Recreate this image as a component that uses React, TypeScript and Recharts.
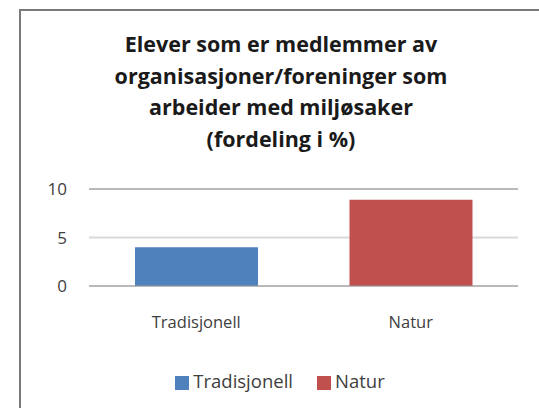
import React from "react";
import { BarChart, Bar, XAxis, YAxis, CartesianGrid, Legend, ReferenceLine } from "recharts";

const categories = ["Tradisjonell", "Natur"];
const tradisjonell = [4, null];
const natur = [null, 8.9];
const yTicks = [0, 5, 10];
const titleLines = [
  "Elever som er medlemmer av",
  "organisasjoner/foreninger som",
  "arbeider med miljøsaker",
  "(fordeling i %)",
];

const data = categories.map((c, i) => ({
  name: c,
  Tradisjonell: tradisjonell[i],
  Natur: natur[i],
}));

const FONT = "'Open Sans', 'Noto Sans', sans-serif";

export default function App() {
  return (
    <div style={{ position: "absolute", left: 0, top: 0, width: 539, height: 408, background: "#fff", overflow: "hidden", fontFamily: FONT }}>
      <div style={{ position: "absolute", left: 19, top: 9, width: 560, height: 430, border: "2px solid #7a7a7a", boxSizing: "border-box" }} />
      <div style={{ position: "absolute", left: 20, top: 28, width: 522, textAlign: "center", fontWeight: 700, fontSize: 21.5, lineHeight: "31.5px", color: "#1a1a1a" }}>
        {titleLines.map((l) => (
          <div key={l}>{l}</div>
        ))}
      </div>
      <div style={{ position: "absolute", left: 0, top: 0 }}>
        <BarChart
          width={539}
          height={408}
          data={data}
          margin={{ top: 189, right: 21, left: 29, bottom: 16 }}
          barCategoryGap="43%"
          barSize={123}
        >
          <CartesianGrid horizontal vertical={false} stroke="#d9d9d9" strokeWidth={2} />
          <ReferenceLine y={10} stroke="#9a9a9a" strokeWidth={1} ifOverflow="extendDomain" />
          <XAxis
            dataKey="name"
            axisLine={{ stroke: "#9a9a9a" }}
            tickLine={false}
            tickSize={0}
            tickMargin={30}
            height={84}
            tick={{ fill: "#404040", fontSize: 16.5, fontFamily: FONT }}
          />
          <YAxis
            domain={[0, 10]}
            ticks={yTicks}
            axisLine={false}
            tickLine={false}
            tickSize={0}
            tickMargin={22}
            width={60}
            tick={{ fill: "#404040", fontSize: 17, fontFamily: FONT }}
          />
          <Legend
            verticalAlign="bottom"
            iconType="square"
            iconSize={14}
            itemSorter={(item: any) => categories.indexOf(item.value)}
            wrapperStyle={{ left: 38, width: 508, fontFamily: FONT, fontSize: 18.5, lineHeight: "22px", color: "#404040" }}
            formatter={(v) => <span style={{ color: "#404040", marginRight: 14 }}>{v}</span>}
          />
          <Bar dataKey="Tradisjonell" stackId="a" fill="#4f81bd" isAnimationActive={false} />
          <Bar dataKey="Natur" stackId="a" fill="#c0504d" isAnimationActive={false} />
        </BarChart>
      </div>
    </div>
  );
}
